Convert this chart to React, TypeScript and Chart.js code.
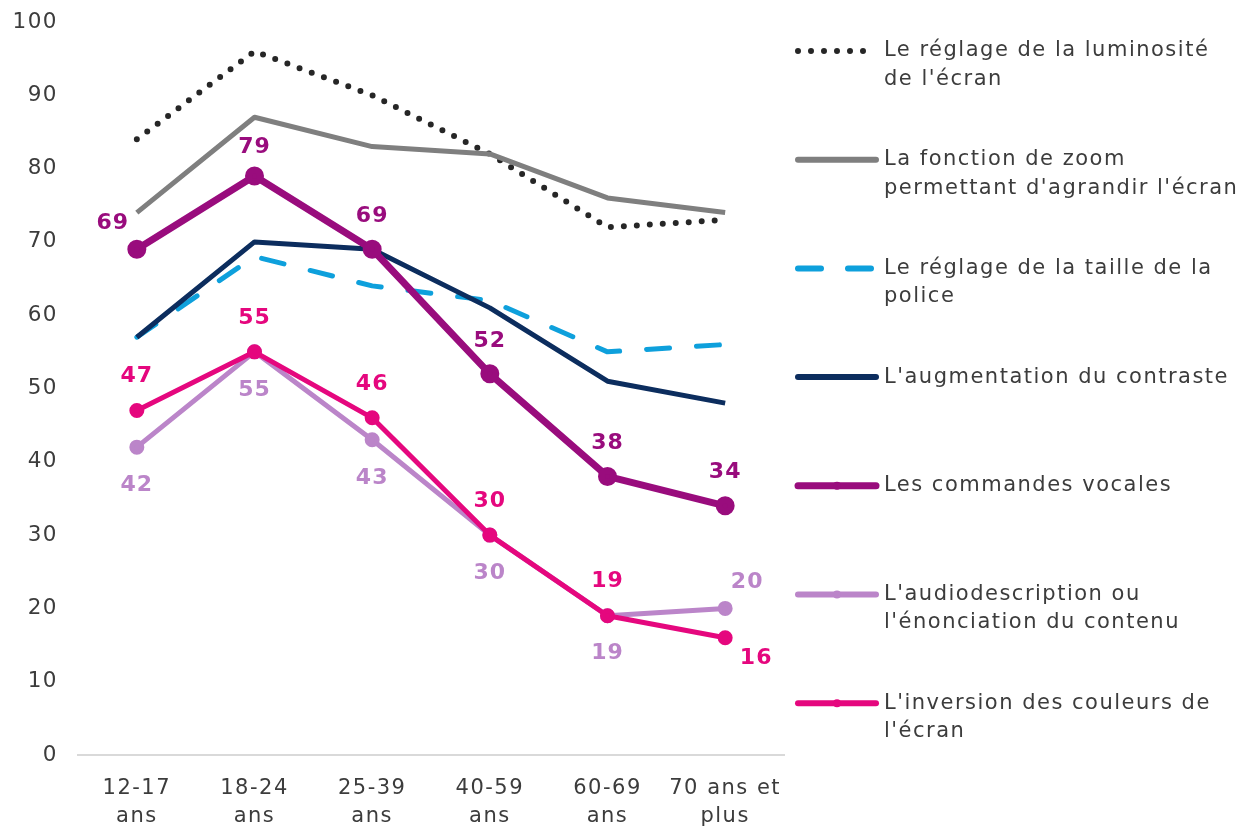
import React, { useEffect, useRef } from "react";
import { Chart, registerables } from "chart.js";

Chart.register(...registerables);

const categories = [
  ["12-17", "ans"],
  ["18-24", "ans"],
  ["25-39", "ans"],
  ["40-59", "ans"],
  ["60-69", "ans"],
  ["70 ans et", "plus"],
];

const luminosite = [84, 96, 90, 82, 72, 73];
const zoomEcran = [74, 87, 83, 82, 76, 74];
const taillePolice = [57, 68, 64, 62, 55, 56];
const contraste = [57, 70, 69, 61, 51, 48];
const commandesVocales = [69, 79, 69, 52, 38, 34];
const audiodescription = [42, 55, 43, 30, 19, 20];
const inversionCouleurs = [47, 55, 46, 30, 19, 16];

const legendLabels = [
  ["Le réglage de la luminosité", "de l'écran"],
  ["La fonction de zoom", "permettant d'agrandir l'écran"],
  ["Le réglage de la taille de la", "police"],
  ["L'augmentation du contraste"],
  ["Les commandes vocales"],
  ["L'audiodescription ou", "l'énonciation du contenu"],
  ["L'inversion des couleurs de", "l'écran"],
];

const yTicks = [0, 10, 20, 30, 40, 50, 60, 70, 80, 90, 100];

const FONT = "'DejaVu Sans', Verdana, sans-serif";
const TEXT = "#3c3c3c";

const labelPlugin = {
  id: "pointLabels",
  afterDatasetsDraw(chart: any) {
    const ctx = chart.ctx;
    chart.data.datasets.forEach((ds: any, i: number) => {
      if (!ds.showLabels) return;
      const meta = chart.getDatasetMeta(i);
      ctx.save();
      ctx.font = `bold 22px ${FONT}`;
      (ctx as any).letterSpacing = "1px";
      ctx.fillStyle = ds.labelColor;
      ctx.textAlign = "center";
      ctx.textBaseline = "middle";
      meta.data.forEach((pt: any, j: number) => {
        const sp = ds.labelSpecial && ds.labelSpecial[j];
        const dx = sp ? sp[0] : 0;
        const dy = sp ? sp[1] : ds.labelDy;
        ctx.fillText(String(ds.data[j]), pt.x + dx, pt.y + dy);
      });
      ctx.restore();
    });
  },
};

const spacingPlugin = {
  id: "spacing",
  beforeDraw(chart: any) {
    (chart.ctx as any).letterSpacing = "1.5px";
  },
  afterDraw(chart: any) {
    const ctx = chart.ctx;
    ctx.save();
    chart.data.datasets.forEach((ds: any, i: number) => {
      const y0 = 51 + i * 108.7;
      ctx.save();
      ctx.strokeStyle = ds.borderColor;
      ctx.lineWidth = ds.legendWidth;
      ctx.lineCap = "round";
      ctx.setLineDash(ds.borderDash || []);
      ctx.beginPath();
      ctx.moveTo(798, y0);
      ctx.lineTo(876, y0);
      ctx.stroke();
      if (ds.pointRadius > 0) {
        ctx.setLineDash([]);
        ctx.fillStyle = ds.borderColor;
        ctx.beginPath();
        ctx.arc(837, y0, 4, 0, Math.PI * 2);
        ctx.fill();
      }
      ctx.restore();
      ctx.font = `21px ${FONT}`;
      (ctx as any).letterSpacing = "1.5px";
      ctx.fillStyle = TEXT;
      ctx.textAlign = "left";
      ctx.textBaseline = "middle";
      legendLabels[i].forEach((line, k) => {
        ctx.fillText(line, 884, y0 + k * 28.5);
      });
    });
    ctx.restore();
    (ctx as any).letterSpacing = "0px";
  },
};

export default function App() {
  const ref = useRef<HTMLCanvasElement>(null);
  useEffect(() => {
    document.body.style.margin = "0";
    const cvs = ref.current!;
    const chart = new Chart(cvs, {
      type: "line",
      data: {
        labels: categories as any,
        datasets: [
          {
            label: legendLabels[0].join(" "),
            data: luminosite,
            borderColor: "#262626",
            borderWidth: 6,
            borderDash: [0, 13],
            borderCapStyle: "round",
            pointRadius: 0,
            legendWidth: 6,
            order: 6,
          } as any,
          {
            label: legendLabels[1].join(" "),
            data: zoomEcran,
            borderColor: "#7f7f7f",
            borderWidth: 5,
            pointRadius: 0,
            legendWidth: 6,
            order: 5,
          },
          {
            label: legendLabels[2].join(" "),
            data: taillePolice,
            borderColor: "#0ea0dc",
            borderWidth: 5,
            borderDash: [23, 27],
            borderCapStyle: "round",
            pointRadius: 0,
            legendWidth: 6,
            order: 4,
          },
          {
            label: legendLabels[3].join(" "),
            data: contraste,
            borderColor: "#0c2d5e",
            borderWidth: 5,
            pointRadius: 0,
            legendWidth: 6,
            order: 3,
          },
          {
            label: legendLabels[4].join(" "),
            data: commandesVocales,
            borderColor: "#990c7d",
            backgroundColor: "#990c7d",
            borderWidth: 7,
            pointRadius: 6,
            showLabels: true,
            labelColor: "#990c7d",
            labelDy: -33,
            labelSpecial: { 0: [-24, -26], 1: [0, -29] },
            legendWidth: 7,
            order: 2,
          },
          {
            label: legendLabels[5].join(" "),
            data: audiodescription,
            borderColor: "#bb85c9",
            backgroundColor: "#bb85c9",
            borderWidth: 5,
            pointRadius: 5,
            showLabels: true,
            labelColor: "#bb85c9",
            labelDy: 38,
            labelSpecial: { 5: [22, -26] },
            legendWidth: 6,
            order: 1,
          },
          {
            label: legendLabels[6].join(" "),
            data: inversionCouleurs,
            borderColor: "#e5077e",
            backgroundColor: "#e5077e",
            borderWidth: 5,
            pointRadius: 5,
            showLabels: true,
            labelColor: "#e5077e",
            labelDy: -34,
            labelSpecial: { 5: [31, 21] },
            legendWidth: 6,
            order: 0,
          },
        ] as any,
      },
      options: {
        responsive: false,
        animation: false,
        events: [],
        layout: { padding: { left: 8, right: 467, top: 22, bottom: 0 } },
        plugins: {
          legend: { display: false },
          tooltip: { enabled: false },
        },
        elements: {
          line: { tension: 0, borderJoinStyle: "round" },
          point: { borderWidth: 0, hoverRadius: 0 },
        },
        scales: {
          x: {
            offset: true,
            grid: { display: false, drawTicks: false },
            border: { display: true, color: "#d9d9d9", width: 2 },
            ticks: {
              color: TEXT,
              font: { family: FONT, size: 21, lineHeight: 1.35 },
              padding: 19,
              maxRotation: 0,
              autoSkip: false,
            },
            afterFit: (s: any) => {
              s.height = 73;
            },
          },
          y: {
            min: 0,
            max: 100,
            afterBuildTicks: (s: any) => {
              s.ticks = yTicks.map((v) => ({ value: v }));
            },
            grid: { display: false, drawTicks: false },
            border: { display: false },
            ticks: {
              color: TEXT,
              font: { family: FONT, size: 21.5, lineHeight: 0.1 },
              padding: 20,
            },
            afterFit: (s: any) => {
              s.width = 70;
            },
          },
        },
      },
      plugins: [spacingPlugin, labelPlugin],
    });
    return () => chart.destroy();
  }, []);
  return (
    <div style={{ width: 1251, height: 828, position: "relative" }}>
      <canvas ref={ref} width={1251} height={828} style={{ display: "block" }} />
    </div>
  );
}
